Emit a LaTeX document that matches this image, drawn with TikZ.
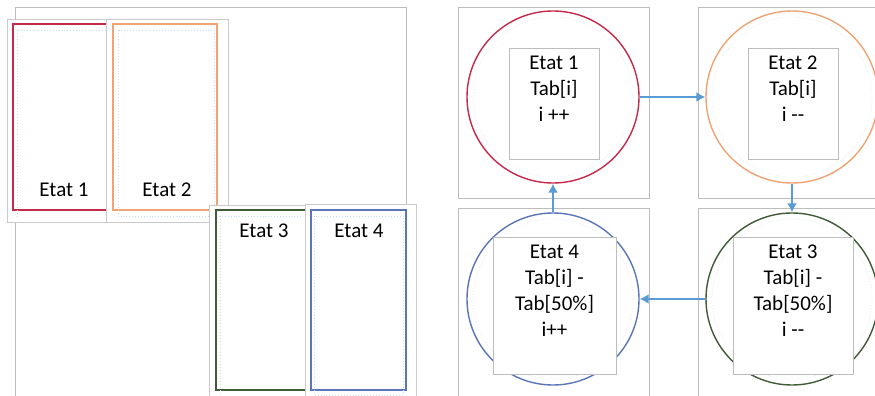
\documentclass[tikz,border=0pt]{standalone}
\usepackage{fontspec}
\setmainfont{Carlito}
\usetikzlibrary{arrows.meta,positioning}

\definecolor{etatred}{HTML}{C42A4A}
\definecolor{etatorange}{HTML}{F0A474}
\definecolor{etatgreen}{HTML}{3F5B37}
\definecolor{etatblue}{HTML}{5B76B8}
\definecolor{flowblue}{HTML}{5B9BD5}
\definecolor{framegray}{HTML}{BDBDBD}
\definecolor{dotblue}{HTML}{C9DCEE}

\tikzset{
  frame/.style={draw=framegray,line width=0.8pt,fill=white},
  card/.style={draw=framegray!80,line width=0.8pt,fill=white,inner sep=0pt},
  etatrect/.style={line width=1.6pt,fill=white,inner sep=0pt},
  dotrect/.style={draw=dotblue,dotted,line width=0.9pt},
  dotround/.style={draw=dotblue!55,dotted,line width=0.8pt},
  etatcircle/.style={circle,line width=1.4pt,minimum size=172pt,inner sep=0pt},
  textbox/.style={draw=framegray,line width=0.8pt,fill=white,align=center,inner sep=0pt,
    font=\fontsize{21}{26}\selectfont},
  etatlabel/.style={font=\fontsize{21}{26}\selectfont,inner sep=0pt},
  flow/.style={draw=flowblue,line width=2pt,-{Latex[length=9pt,width=10pt]}}
}

\begin{document}
\begin{tikzpicture}[x=1pt,y=-1pt]
\useasboundingbox (0,0) rectangle (875,396);
\clip (0,0) rectangle (875,396);

% left panel
\draw[frame] (15,7) rectangle (406,420);
\node[card,minimum width=99pt,minimum height=203pt] (card1) at (56.5,120.5) {};
\node[etatrect,draw=etatred,minimum width=107pt,minimum height=186pt] (rect1) at (66.5,117) {};
\draw[dotrect] (18,30) -- (106,30) (17,30) -- (17,216);
\node[card,minimum width=122pt,minimum height=203pt] (card2) at (167,120.5) {};
\node[etatrect,draw=etatorange,minimum width=104pt,minimum height=186pt] (rect2) at (165,117) {};
\draw[dotrect] (118,30) rectangle (214,216);
\node[etatlabel] (lab1) at (64,190) {Etat 1};
\node[etatlabel] (lab2) at (167,190) {Etat 2};

\node[card,minimum width=96pt,minimum height=200pt] (card3) at (257,305) {};
\node[etatrect,draw=etatgreen,minimum width=104pt,minimum height=180pt] (rect3) at (268,300) {};
\draw[dotrect] (219,216) -- (303,216) (220,216) -- (220,395);
\node[card,minimum width=111pt,minimum height=200pt] (card4) at (360.5,304) {};
\node[etatrect,draw=etatblue,minimum width=95pt,minimum height=180pt] (rect4) at (358.5,300) {};
\draw[dotrect] (314,216) rectangle (403,395);
\node[etatlabel] (lab3) at (264,231) {Etat 3};
\node[etatlabel] (lab4) at (359,231) {Etat 4};

% right panel
\draw[frame] (458,7) rectangle (649,198);
\draw[frame] (698,7) rectangle (889,198);
\draw[frame] (458,208) rectangle (649,399);
\draw[frame] (698,208) rectangle (889,399);

\node[etatcircle,draw=etatred] (c1) at (553,97) {};
\node[etatcircle,draw=etatorange] (c2) at (792,97) {};
\node[etatcircle,draw=etatgreen] (c3) at (792,299) {};
\node[etatcircle,draw=etatblue] (c4) at (553,299) {};
\foreach \c in {c1,c2,c3,c4}
  \draw[dotround] (\c) circle (80pt);

\node[textbox,minimum width=90pt,minimum height=111pt] (t1) at (554,103.5) {Etat 1\\Tab[i]\\i ++\\[4pt]};
\node[textbox,minimum width=90pt,minimum height=111pt] (t2) at (793,103.5) {Etat 2\\Tab[i]\\i {-}{-}\\[4pt]};
\node[textbox,minimum width=120pt,minimum height=137pt] (t3) at (793,305.5) {Etat 3\\Tab[i] -\\Tab[50\%]\\i {-}{-}\\[4pt]};
\node[textbox,minimum width=123pt,minimum height=137pt] (t4) at (554.5,305.5) {Etat 4\\Tab[i] -\\Tab[50\%]\\i++\\[4pt]};

\draw[flow] (c1.east) -- (c2.west);
\draw[flow] (c2.south) -- (c3.north);
\draw[flow] (c3.west) -- (c4.east);
\draw[flow] (c4.north) -- (c1.south);
\end{tikzpicture}
\end{document}
